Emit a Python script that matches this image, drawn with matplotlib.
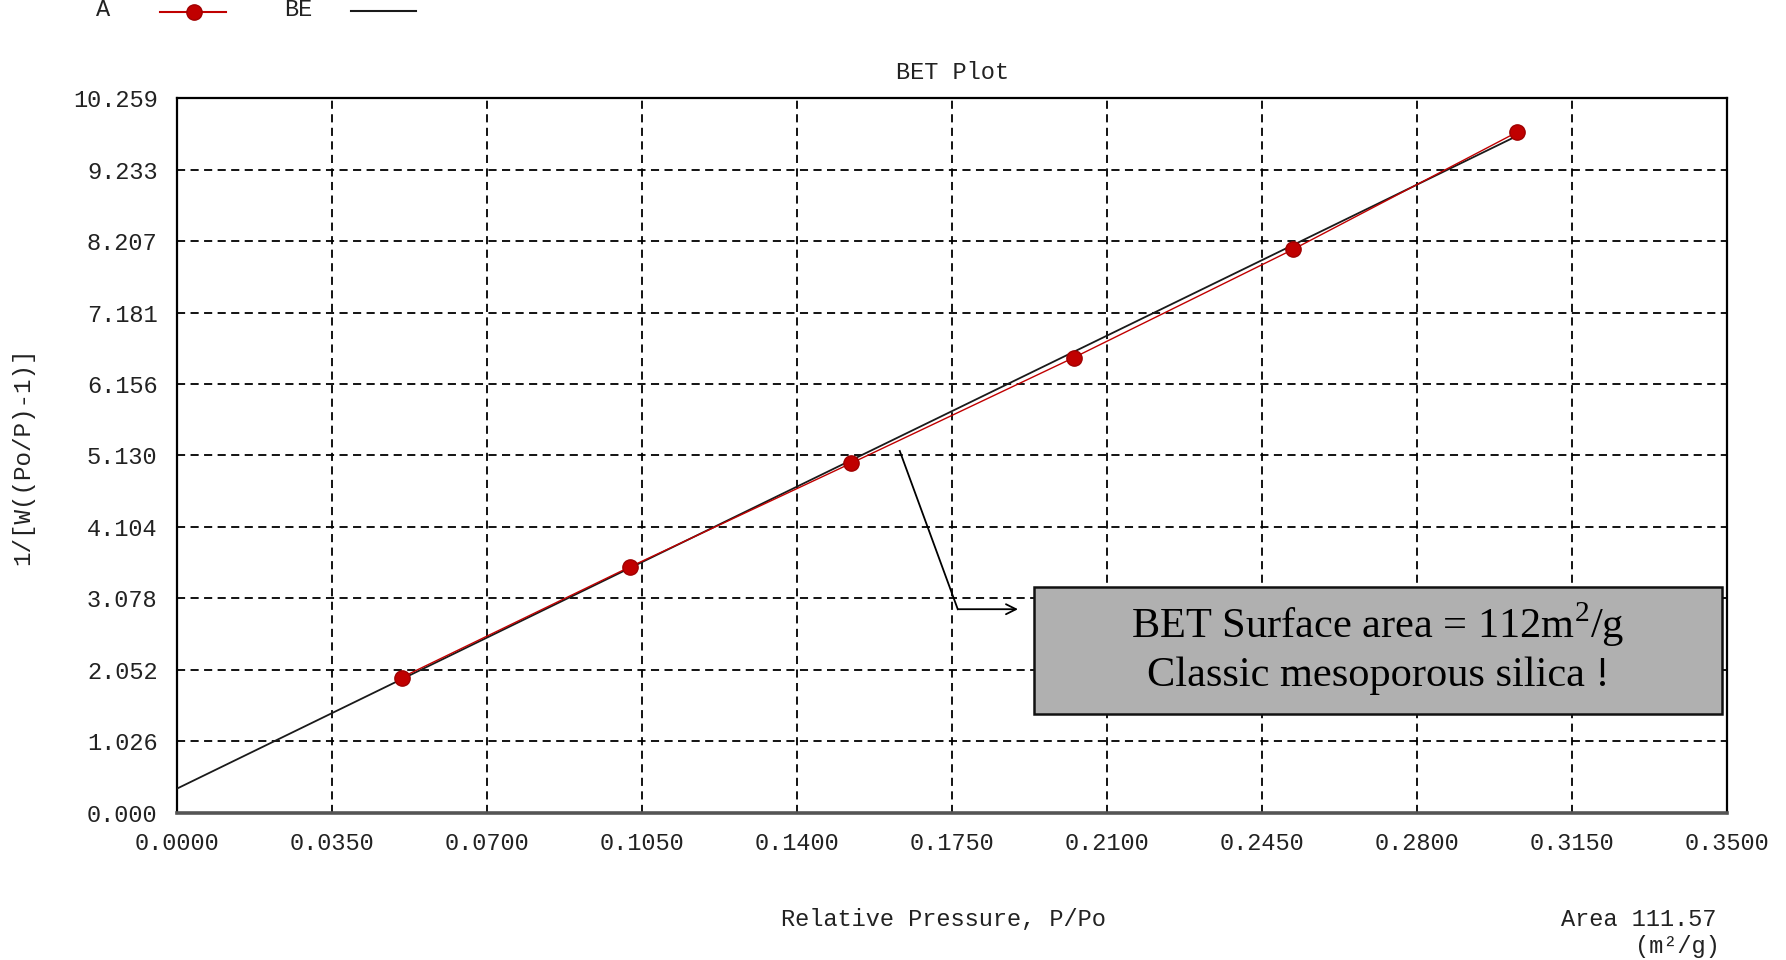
import matplotlib
matplotlib.use("Agg")
import matplotlib.pyplot as plt
from matplotlib.lines import Line2D
from matplotlib.patches import Rectangle
import numpy as np

# BET data: relative pressure vs 1/[W((Po/P)-1)]
p_rel = [0.0507, 0.1022, 0.1521, 0.2025, 0.2520, 0.3026]
bet_y = [1.944, 3.529, 5.015, 6.534, 8.086, 9.769]

# Linear BET fit (intercept, slope) and its drawn range
fit_intercept = 0.35
fit_slope = 30.95
fit_range = [0.0, 0.3015]

x_ticks = [0.0, 0.035, 0.070, 0.105, 0.140, 0.175, 0.210, 0.245, 0.280, 0.315, 0.350]
y_ticks = [0.000, 1.026, 2.052, 3.078, 4.104, 5.130, 6.156, 7.181, 8.207, 9.233, 10.259]
x_tick_labels = ["0.0000", "0.0350", "0.0700", "0.1050", "0.1400", "0.1750",
                 "0.2100", "0.2450", "0.2800", "0.3150", "0.3500"]
y_tick_labels = ["0.000", "1.026", "2.052", "3.078", "4.104", "5.130",
                 "6.156", "7.181", "8.207", "9.233", "10.259"]

MONO = "Liberation Mono"
SERIF = "Liberation Serif"
plt.rcParams["mathtext.fontset"] = "custom"
plt.rcParams["mathtext.rm"] = SERIF

W, H = 1786, 960
fig = plt.figure(figsize=(W / 100, H / 100), dpi=100)
fig.patch.set_facecolor("white")

ax_l, ax_r, ax_t, ax_b = 177, 1727, 98, 813
ax = fig.add_axes([ax_l / W, 1 - ax_b / H, (ax_r - ax_l) / W, (ax_b - ax_t) / H])

ax.set_xlim(0, 0.35)
ax.set_ylim(0, 10.259)
ax.set_xticks(x_ticks)
ax.set_xticklabels(x_tick_labels, fontfamily=MONO, fontsize=17, color="#222222")
ax.set_yticks(y_ticks)
ax.set_yticklabels(y_tick_labels, fontfamily=MONO, fontsize=17, color="#222222")
ax.tick_params(axis="both", length=0)
ax.tick_params(axis="x", pad=14)
ax.tick_params(axis="y", pad=14)

ax.grid(True, color="black", linestyle=(0, (4.5, 3)), linewidth=1.3)
for s in ["top", "left", "right"]:
    ax.spines[s].set_linewidth(1.6)
    ax.spines[s].set_color("black")
ax.spines["bottom"].set_linewidth(2.6)
ax.spines["bottom"].set_color("#555555")

# fitted line
fx = np.array(fit_range)
ax.plot(fx, fit_intercept + fit_slope * fx, color="#1a1a1a", linewidth=1.3, zorder=3)
# measured points
ax.plot(p_rel, bet_y, color="#c00000", linewidth=1.0, marker="o", markersize=11,
        markerfacecolor="#c00000", markeredgecolor="#a00000", zorder=4)

ax.set_title("BET Plot", fontfamily=MONO, fontsize=17, pad=14, color="#222222")
fig.text(23 / W, 1 - 456 / H, "1/[W((Po/P)-1)]", rotation=90, ha="center", va="center",
         fontfamily=MONO, fontsize=17.5, color="#222222")
fig.text(943 / W, 1 - 919 / H, "Relative Pressure, P/Po", ha="center", va="center",
         fontfamily=MONO, fontsize=17, color="#222222")
fig.text(1716 / W, 1 - 919 / H, "Area 111.57", ha="right", va="center",
         fontfamily=MONO, fontsize=17, color="#222222")
fig.text(1720 / W, 1 - 946 / H, "(m²/g)", ha="right", va="center",
         fontfamily=MONO, fontsize=17, color="#222222")

# legend row at the top edge
fig.text(103 / W, 1 - 10 / H, "A", ha="center", va="center", fontfamily=MONO,
         fontsize=17, color="#222222")
fig.add_artist(Line2D([160 / W, 226 / W], [1 - 12 / H, 1 - 12 / H], transform=fig.transFigure,
                      color="#c00000", linewidth=1.5))
fig.add_artist(Line2D([194 / W], [1 - 12 / H], transform=fig.transFigure, marker="o",
                      markersize=11, color="#c00000", markeredgecolor="#a00000"))
fig.text(298 / W, 1 - 10 / H, "BE", ha="center", va="center", fontfamily=MONO,
         fontsize=17, color="#222222")
fig.add_artist(Line2D([351 / W, 416 / W], [1 - 11 / H, 1 - 11 / H], transform=fig.transFigure,
                      color="#1a1a1a", linewidth=1.5))

# callout box
bx0, bx1 = (1034 - ax_l) / (ax_r - ax_l), (1722 - ax_l) / (ax_r - ax_l)
by0, by1 = (ax_b - 714) / (ax_b - ax_t), (ax_b - 587) / (ax_b - ax_t)
ax.add_patch(Rectangle((bx0, by0), bx1 - bx0, by1 - by0, transform=ax.transAxes,
                       facecolor="#b0b0b0", edgecolor="#111111", linewidth=1.8, zorder=6))
cx = (bx0 + bx1) / 2
ax.text(cx, (ax_b - 625) / (ax_b - ax_t), r"BET Surface area = 112m$^{2}$/g",
        transform=ax.transAxes, ha="center", va="center", fontfamily=SERIF,
        fontsize=30.5, color="black", zorder=7)
ax.text(cx, (ax_b - 676) / (ax_b - ax_t), "Classic mesoporous silica !",
        transform=ax.transAxes, ha="center", va="center", fontfamily=SERIF,
        fontsize=30.5, color="black", zorder=7)

# leader from the fit line to the box
p_start = (0.1632, 5.195)
p_corner = (0.1763, 2.924)
p_end = (0.1899, 2.924)
ax.plot([p_start[0], p_corner[0]], [p_start[1], p_corner[1]], color="black",
        linewidth=1.3, zorder=5)
ax.annotate("", xy=p_end, xytext=p_corner,
            arrowprops=dict(arrowstyle="->", color="black", lw=1.3,
                            shrinkA=0, shrinkB=0, mutation_scale=18), zorder=5)

fig.savefig("out.png", dpi=100, facecolor="white")
